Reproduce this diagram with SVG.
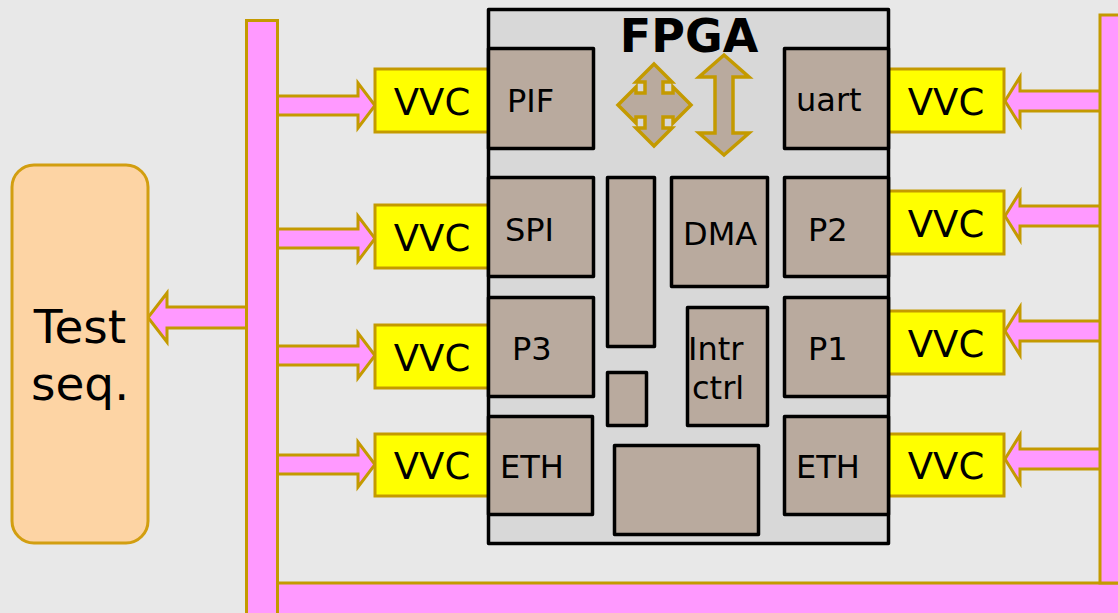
<svg xmlns="http://www.w3.org/2000/svg" width="1118" height="613" viewBox="0 0 1118 613">
<defs>
<style>
.bus{fill:#ff99ff;stroke:#c49a00;stroke-width:3}
.arr{fill:#ff99ff;stroke:#c49a00;stroke-width:3;stroke-linejoin:miter}
.vvc{fill:#ffff00;stroke:#c49a00;stroke-width:3}
.vt{font-family:"DejaVu Sans",Verdana,sans-serif;font-size:37px;fill:#000}
.blk{fill:#b9aa9e;stroke:#000;stroke-width:3.5;stroke-linejoin:round}
.bt{font-family:"DejaVu Sans",Verdana,sans-serif;font-size:32px;fill:#000}
.garr{fill:#b9aa9e;stroke:#c49a00;stroke-width:3.5;stroke-linejoin:miter}
</style>
</defs>
<rect x="0" y="0" width="1118" height="613" fill="#e8e8e8"/>

<g id="connectors">
  <polygon class="arr" points="270,96 358,96 358,83 375,105.5 358,128 358,115 270,115"/>
  <polygon class="arr" points="270,229 358,229 358,216 375,238.5 358,261 358,248 270,248"/>
  <polygon class="arr" points="270,346 358,346 358,333 375,355.5 358,378 358,365 270,365"/>
  <polygon class="arr" points="270,455 358,455 358,442 375,464.5 358,487 358,474 270,474"/>
  <polygon class="arr" points="1106,91 1020,91 1020,77 1005,101 1020,125 1020,111 1106,111"/>
  <polygon class="arr" points="1106,206 1020,206 1020,192 1005,216 1020,240 1020,226 1106,226"/>
  <polygon class="arr" points="1106,321 1020,321 1020,307 1005,331 1020,355 1020,341 1106,341"/>
  <polygon class="arr" points="1106,449 1020,449 1020,435 1005,459 1020,483 1020,469 1106,469"/>
  <polygon class="arr" points="250,307 167,307 167,293 148,317.5 167,342 167,328 250,328"/>
</g>

<g id="bus">
  <rect class="bus" x="277" y="583" width="850" height="40"/>
  <rect class="bus" x="1100" y="15" width="30" height="568"/>
  <rect class="bus" x="246.5" y="20.5" width="31" height="600"/>
</g>

<g id="test-seq">
  <rect x="12" y="165" width="136" height="378" rx="22" ry="22" fill="#fdd4a4" stroke="#d29e10" stroke-width="3"/>
  <text x="80" y="343" text-anchor="middle" font-family="DejaVu Sans, Verdana, sans-serif" font-size="47">Test</text>
  <text x="80" y="400" text-anchor="middle" font-family="DejaVu Sans, Verdana, sans-serif" font-size="47">seq.</text>
</g>

<g id="vvc-left">
  <rect class="vvc" x="375" y="69" width="125" height="63"/><text class="vt" x="432" y="115" text-anchor="middle">VVC</text>
  <rect class="vvc" x="375" y="205" width="125" height="63"/><text class="vt" x="432" y="251" text-anchor="middle">VVC</text>
  <rect class="vvc" x="375" y="325" width="125" height="63"/><text class="vt" x="432" y="371" text-anchor="middle">VVC</text>
  <rect class="vvc" x="375" y="434" width="125" height="62"/><text class="vt" x="432" y="479" text-anchor="middle">VVC</text>
</g>
<g id="vvc-right">
  <rect class="vvc" x="880" y="69" width="124" height="63"/><text class="vt" x="946" y="115" text-anchor="middle">VVC</text>
  <rect class="vvc" x="880" y="191" width="124" height="63"/><text class="vt" x="946" y="237" text-anchor="middle">VVC</text>
  <rect class="vvc" x="880" y="311" width="124" height="63"/><text class="vt" x="946" y="357" text-anchor="middle">VVC</text>
  <rect class="vvc" x="880" y="434" width="124" height="62"/><text class="vt" x="946" y="479" text-anchor="middle">VVC</text>
</g>

<g id="fpga">
  <rect x="488.5" y="9.5" width="400" height="534" fill="#d8d8d8" stroke="#000" stroke-width="3.5" stroke-linejoin="round"/>
  <text x="689" y="52" text-anchor="middle" font-family="DejaVu Sans, Verdana, sans-serif" font-size="46" font-weight="bold">FPGA</text>
</g>

<g id="arrows-internal">
  <polygon class="garr" points="654,64 672,82 663,82 663,93 673,93 673,87 691,105 673,123 673,117 663,117 663,128 672,128 654,146 636,128 645,128 645,117 636,117 636,123 618,105 636,87 636,93 645,93 645,82 636,82"/>
  <polygon class="garr" points="724,55 749,77 733,77 733,133 749,133 724,155 699,133 715,133 715,77 699,77"/>
</g>

<g id="pif"><rect class="blk" x="488.5" y="48.5" width="105" height="100"/><text class="bt" x="507" y="112">PIF</text></g>
<g id="uart"><rect class="blk" x="784.5" y="48.5" width="104" height="100"/><text class="bt" x="796" y="111">uart</text></g>
<g id="spi"><rect class="blk" x="488.5" y="177.5" width="105" height="99"/><text class="bt" x="505" y="241">SPI</text></g>
<g id="bar"><rect class="blk" x="607.5" y="177.5" width="47" height="169"/></g>
<g id="dma"><rect class="blk" x="671.5" y="177.5" width="96" height="109"/><text class="bt" x="683" y="245">DMA</text></g>
<g id="p2"><rect class="blk" x="784.5" y="177.5" width="104" height="99"/><text class="bt" x="808" y="241">P2</text></g>
<g id="p3"><rect class="blk" x="488.5" y="297.5" width="105" height="99"/><text class="bt" x="512" y="360">P3</text></g>
<g id="small"><rect class="blk" x="607.5" y="372.5" width="39" height="53"/></g>
<g id="intr"><rect class="blk" x="687.5" y="307.5" width="80" height="118"/><text class="bt" x="688" y="360">Intr</text><text class="bt" x="692" y="399">ctrl</text></g>
<g id="p1"><rect class="blk" x="784.5" y="297.5" width="104" height="99"/><text class="bt" x="808" y="360">P1</text></g>
<g id="eth-left"><rect class="blk" x="488.5" y="416.5" width="104" height="98"/><text class="bt" x="500" y="478">ETH</text></g>
<g id="big"><rect class="blk" x="614.5" y="445.5" width="144" height="89"/></g>
<g id="eth-right"><rect class="blk" x="784.5" y="416.5" width="104" height="98"/><text class="bt" x="796" y="478">ETH</text></g>
</svg>
